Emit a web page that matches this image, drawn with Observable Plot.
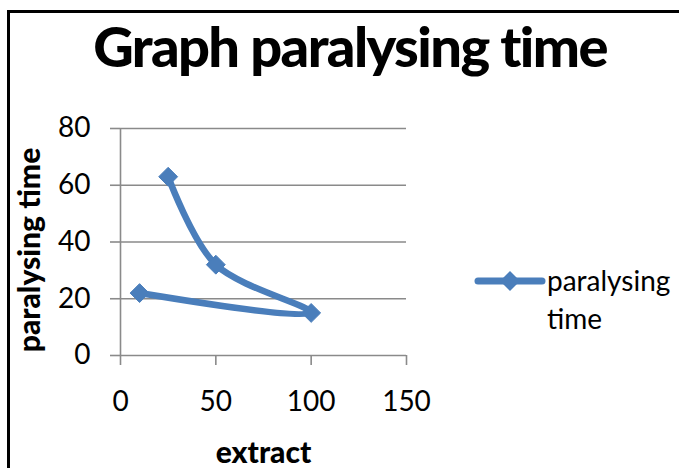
<!DOCTYPE html>
<html>
<head>
<meta charset="utf-8">
<script src="https://cdn.jsdelivr.net/npm/d3@7"></script>
<script src="https://cdn.jsdelivr.net/npm/@observablehq/plot@0.6"></script>
<style>
  html, body { margin: 0; padding: 0; background: #fff; }
  #wrap { position: relative; width: 679px; height: 468px; overflow: hidden; font-family: Lato, "Open Sans", sans-serif; }
  #border { position: absolute; left: 7px; top: 10px; width: 700px; height: 500px; border: 3px solid #000; box-sizing: border-box; }
  #title { position: absolute; left: 0; width: 700px; text-align: center; top: 12px; font-size: 56px; font-weight: 900; color: #000; letter-spacing: -1.6px; white-space: nowrap; }
  #chart { position: absolute; left: 0; top: 0; }
  #legend { position: absolute; left: 474px; top: 262px; display: flex; align-items: flex-start; }
  #legend .txt { font-size: 28px; line-height: 38px; color: #000; margin-left: 1px; margin-top: -1px; }
</style>
</head>
<body>
<div id="wrap">
  <div id="border"></div>
  <div id="chart"></div>
  <div id="title">Graph paralysing time</div>
  <div id="legend">
    <svg width="72" height="40"><line x1="4" y1="19" x2="68" y2="19" stroke="#4a7ebb" stroke-width="7" stroke-linecap="round"/><path d="M36 9 L46 19 L36 29 L26 19 Z" fill="#4a7ebb"/></svg>
    <div class="txt">paralysing<br>time</div>
  </div>
</div>
<script>
const extract = [25, 50, 100, 10];
const paralysingTime = [63, 32, 15, 22];
const xTicks = [0, 50, 100, 150];
const yTicks = [0, 20, 40, 60, 80];
const seriesName = "paralysing time";

const data = extract.map((x, i) => ({extract: x, time: paralysingTime[i]}));
const blue = "#4a7ebb";
const gray = "#8a8a8a";

const chart = Plot.plot({
  width: 679,
  height: 468,
  marginLeft: 120,
  marginRight: 273,
  marginTop: 128,
  marginBottom: 113,
  style: {fontFamily: "Lato, 'Open Sans', sans-serif", background: "transparent", overflow: "visible"},
  x: {domain: [0, 150], ticks: xTicks},
  y: {domain: [0, 80], ticks: yTicks},
  marks: [
    Plot.gridY(yTicks, {stroke: gray, strokeOpacity: 1, strokeWidth: 1.6}),
    Plot.axisY(yTicks, {tickSize: 10, tickPadding: 20, stroke: gray, strokeWidth: 1.6, fontSize: 28, fill: "#000", label: null}),
    Plot.ruleX([0], {stroke: gray, strokeWidth: 1.6}),
    Plot.axisX(xTicks, {tickSize: 10, tickPadding: 26, stroke: gray, strokeWidth: 1.6, fontSize: 28, fill: "#000", label: null}),
    Plot.text([seriesName], {frameAnchor: "left", textAnchor: "middle", dx: -90, dy: 8, rotate: -90, fontSize: 30, fontWeight: 900, fill: "#000"}),
    Plot.text(["extract"], {frameAnchor: "bottom", dy: 107, fontSize: 30, fontWeight: 900, fill: "#000"}),
    Plot.line(data, {x: "extract", y: "time", stroke: blue, strokeWidth: 6.5, curve: "catmull-rom", strokeLinejoin: "round"}),
    Plot.dot(data, {x: "extract", y: "time", symbol: "diamond2", r: 8.5, fill: blue, stroke: blue, strokeWidth: 1})
  ]
});
document.getElementById("chart").appendChild(chart);
</script>
</body>
</html>
